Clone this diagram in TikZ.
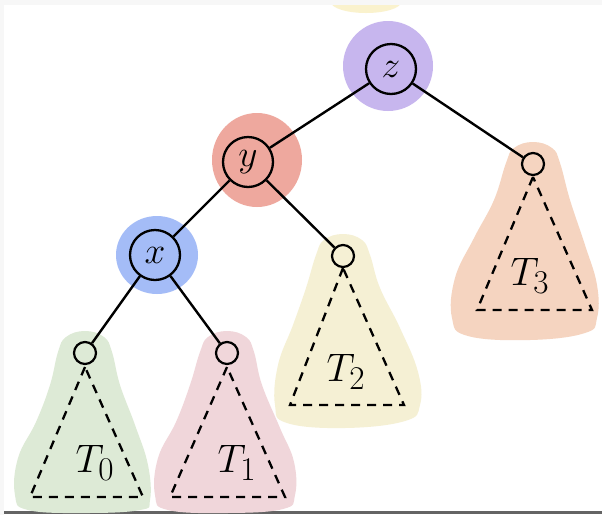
\documentclass[tikz,border=0pt]{standalone}
\usepackage{graphicx}
\newcommand{\bigmath}[2][1.5]{\scalebox{#1}{\Huge$#2$}}
\begin{document}
\begin{tikzpicture}[x=1pt,y=-1pt,
  edge/.style={line width=2.4pt,black},
  keynode/.style={circle,draw=black,line width=2.3pt,minimum size=50pt,inner sep=0pt},
  leafroot/.style={circle,draw=black,line width=2.2pt,minimum size=22pt,inner sep=0pt},
  subtree/.style={line width=2.3pt,dash pattern=on 9pt off 7pt},
  sublabel/.style={inner sep=0pt}]
\definecolor{cpurple}{RGB}{199,182,238}
\definecolor{cred}{RGB}{238,168,158}
\definecolor{cblue}{RGB}{164,188,247}
\definecolor{cgreen}{RGB}{221,234,214}
\definecolor{cpink}{RGB}{240,214,218}
\definecolor{cyellow}{RGB}{245,240,212}
\definecolor{corange}{RGB}{245,212,192}
\definecolor{ctop}{RGB}{250,242,205}
\definecolor{frame}{RGB}{247,247,247}
\definecolor{rule}{RGB}{100,100,100}

\useasboundingbox (0,0) rectangle (602,515);
\fill[white] (0,0) rectangle (602,515);

% page frame strips and the partial blob at the top edge
\begin{scope}
  \clip (0,5) rectangle (602,515);
  \fill[ctop] (366,2) ellipse [x radius=35, y radius=11];
\end{scope}
\fill[frame] (0,0) rectangle (602,5);
\fill[frame] (0,0) rectangle (4,515);
\fill[rule] (4,511) rectangle (602,513.5);

% coloured halos behind the key nodes
\fill[cpurple] (388,66) circle [radius=45];
\fill[cred] (257,160) ellipse [x radius=45, y radius=47];
\fill[cblue] (157,255) ellipse [x radius=41, y radius=39];

% soft shapes behind the subtrees
\fill[cgreen] plot[smooth cycle, tension=0.7] coordinates {
  (66,337) (85,331) (104,337) (112,352) (120,385) (135,425) (148,465) (150,500) (140,510)
  (85,513) (28,510) (15,495) (18,458) (36,422) (50,385) (58,352)};
\fill[cpink] plot[smooth cycle, tension=0.7] coordinates {
  (208,337) (227,331) (246,337) (254,352) (262,385) (280,428) (294,462) (295,495) (283,509)
  (227,513) (168,510) (155,495) (158,458) (176,422) (190,385) (200,352)};
\fill[cyellow] plot[smooth cycle, tension=0.7] coordinates {
  (324,240) (343,234) (362,240) (370,255) (380,288) (400,328) (418,372) (420,405) (405,421)
  (345,428) (287,423) (275,405) (278,365) (293,325) (306,288) (316,255)};
\fill[corange] plot[smooth cycle, tension=0.7] coordinates {
  (514,148) (533,142) (552,148) (560,163) (570,200) (585,245) (597,285) (597,318) (585,333)
  (530,340) (468,336) (452,318) (455,278) (474,238) (494,200) (506,163)};

% key nodes
\node[keynode] (z) at (391,69) {\bigmath{z}};
\node[keynode] (y) at (248,162) {\bigmath{y}};
\node[keynode] (x) at (155,255) {\bigmath{x}};

% roots of the subtrees
\node[leafroot] (r0) at (85,353) {};
\node[leafroot] (r1) at (227,353) {};
\node[leafroot] (r2) at (343,256) {};
\node[leafroot] (r3) at (533,164) {};

% tree edges
\draw[edge] (z) -- (y);
\draw[edge] (z) -- (r3);
\draw[edge] (y) -- (x);
\draw[edge] (y) -- (r2);
\draw[edge] (x) -- (r0);
\draw[edge] (x) -- (r1);

% subtree outlines
\coordinate (a0) at (85,367);  \coordinate (l0) at (30,497);  \coordinate (q0) at (143,497);
\coordinate (a1) at (227,367); \coordinate (l1) at (170,497); \coordinate (q1) at (285,497);
\coordinate (a2) at (343,268); \coordinate (l2) at (290,405); \coordinate (q2) at (404,405);
\coordinate (a3) at (533,177); \coordinate (l3) at (477,310); \coordinate (q3) at (592,310);
\draw[subtree] (a0) -- (l0) -- (q0) -- cycle;
\draw[subtree] (a1) -- (l1) -- (q1) -- cycle;
\draw[subtree] (a2) -- (l2) -- (q2) -- cycle;
\draw[subtree] (a3) -- (l3) -- (q3) -- cycle;

\node[sublabel] (t0) at (95,463) {\bigmath[1.6]{T_0}};
\node[sublabel] (t1) at (237,463) {\bigmath[1.6]{T_1}};
\node[sublabel] (t2) at (346,372) {\bigmath[1.6]{T_2}};
\node[sublabel] (t3) at (530,276) {\bigmath[1.6]{T_3}};
\end{tikzpicture}
\end{document}
